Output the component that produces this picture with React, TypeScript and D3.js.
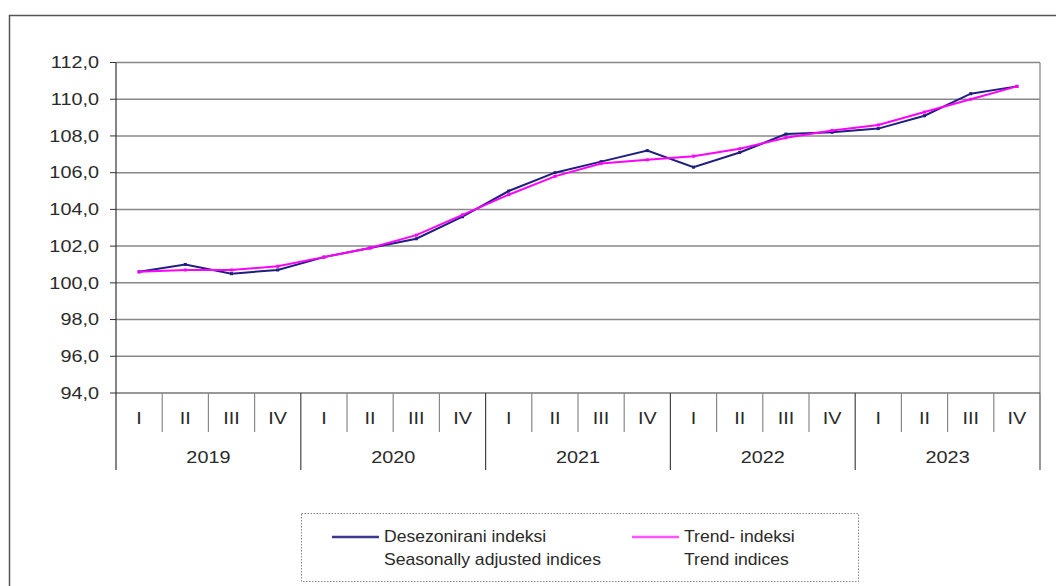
import React from "react";
import * as d3 from "d3";

const years = ["2019", "2020", "2021", "2022", "2023"];
const quarters = ["I", "II", "III", "IV"];
const seasonallyAdjusted = [
  100.6, 101.0, 100.5, 100.7,
  101.4, 101.9, 102.4, 103.6,
  105.0, 106.0, 106.6, 107.2,
  106.3, 107.1, 108.1, 108.2,
  108.4, 109.1, 110.3, 110.7,
];
const trend = [
  100.6, 100.7, 100.7, 100.9,
  101.4, 101.9, 102.6, 103.7,
  104.8, 105.8, 106.5, 106.7,
  106.9, 107.3, 107.9, 108.3,
  108.6, 109.3, 110.0, 110.7,
];
const yTicks = [94, 96, 98, 100, 102, 104, 106, 108, 110, 112];
const legendLabels = [
  ["Desezonirani indeksi", "Seasonally adjusted indices"],
  ["Trend- indeksi", "Trend indices"],
];

const W = 1056;
const H = 586;
const left = 116;
const right = 1040;
const top = 62.5;
const bottom = 393;
const SX = 1.24;

function T({ x, y, anchor, size, sx, children }: any) {
  return (
    <g transform={`translate(${x},${y}) scale(${sx},1)`}>
      <text x={0} y={0} dy="0.36em" textAnchor={anchor} fontSize={size} fill="#2a2a2a">
        {children}
      </text>
    </g>
  );
}

export default function App() {
  const cats = years.flatMap((y) => quarters.map((q) => `${y}-${q}`));
  const x = d3.scaleBand<string>().domain(cats).range([left, right]).padding(0);
  const y = d3.scaleLinear().domain([94, 112]).range([bottom, top]);
  const cx = (i: number) => (x(cats[i]) as number) + x.bandwidth() / 2;
  const line = d3
    .line<number>()
    .x((_, i) => cx(i))
    .y((d) => y(d));
  const font = "'Liberation Sans', Arial, sans-serif";
  const bw = x.bandwidth();
  return (
    <svg
      width={W}
      height={H}
      style={{ position: "absolute", left: 0, top: 0 }}
      fontFamily={font}
    >
      <rect x={0} y={0} width={W} height={H} fill="#fff" />
      <rect x={9.5} y={15.5} width={W + 20} height={H + 20} fill="none" stroke="#555" strokeWidth={1.5} />
      {yTicks.map((t) => (
        <g key={t}>
          {t !== 94 && (
            <line x1={left} x2={right} y1={y(t)} y2={y(t)} stroke="#888" strokeWidth={1.5} />
          )}
          <line x1={left - 6} x2={left} y1={y(t)} y2={y(t)} stroke="#333" strokeWidth={1} />
          <T x={99} y={y(t)} anchor="end" size={16} sx={SX}>
            {t.toFixed(1).replace(".", ",")}
          </T>
        </g>
      ))}
      <line x1={right} x2={right} y1={top} y2={bottom} stroke="#999" strokeWidth={1.5} />
      <line x1={left} x2={right} y1={bottom} y2={bottom} stroke="#333" strokeWidth={1.2} />
      <line x1={left} x2={left} y1={top} y2={470} stroke="#333" strokeWidth={1.2} />
      {cats.map((c, i) => {
        if (i === 0) return null;
        const xx = x(c) as number;
        const isYear = i % 4 === 0;
        return (
          <line
            key={c}
            x1={xx}
            x2={xx}
            y1={bottom}
            y2={isYear ? 470 : 432}
            stroke={isYear ? "#444" : "#888"}
            strokeWidth={1.2}
          />
        );
      })}
      <line x1={right} x2={right} y1={bottom} y2={470} stroke="#555" strokeWidth={1.2} />
      {cats.map((c, i) => (
        <T key={"q" + c} x={cx(i)} y={418} anchor="middle" size={16} sx={SX}>
          {quarters[i % 4]}
        </T>
      ))}
      {years.map((yr, j) => (
        <T key={yr} x={(x(cats[j * 4]) as number) + bw * 2} y={457} anchor="middle" size={16} sx={SX}>
          {yr}
        </T>
      ))}
      <path d={line(seasonallyAdjusted) || ""} fill="none" stroke="#1f1f7f" strokeWidth={2} />
      {seasonallyAdjusted.map((v, i) => (
        <rect key={"sa" + i} x={cx(i) - 1.5} y={y(v) - 1.5} width={3} height={3} fill="#1f1f7f" />
      ))}
      <path d={line(trend) || ""} fill="none" stroke="#ff00ff" strokeWidth={2} />
      {trend.map((v, i) => (
        <rect key={"tr" + i} x={cx(i) - 1.5} y={y(v) - 1.5} width={3} height={3} fill="#ff00ff" />
      ))}
      <rect x={301.5} y={513.5} width={557} height={68} fill="none" stroke="#888" strokeDasharray="1.5,1.5" />
      {legendLabels.map((lab, k) => {
        const lx = k === 0 ? 332 : 632;
        const color = k === 0 ? "#3a3a8f" : "#ff55ff";
        return (
          <g key={k}>
            <line x1={lx} x2={lx + 47} y1={537} y2={537} stroke={color} strokeWidth={2.5} />
            <T x={lx + 52} y={536} anchor="start" size={16} sx={1.1}>
              {lab[0]}
            </T>
            <T x={lx + 52} y={559} anchor="start" size={16} sx={1.1}>
              {lab[1]}
            </T>
          </g>
        );
      })}
    </svg>
  );
}
